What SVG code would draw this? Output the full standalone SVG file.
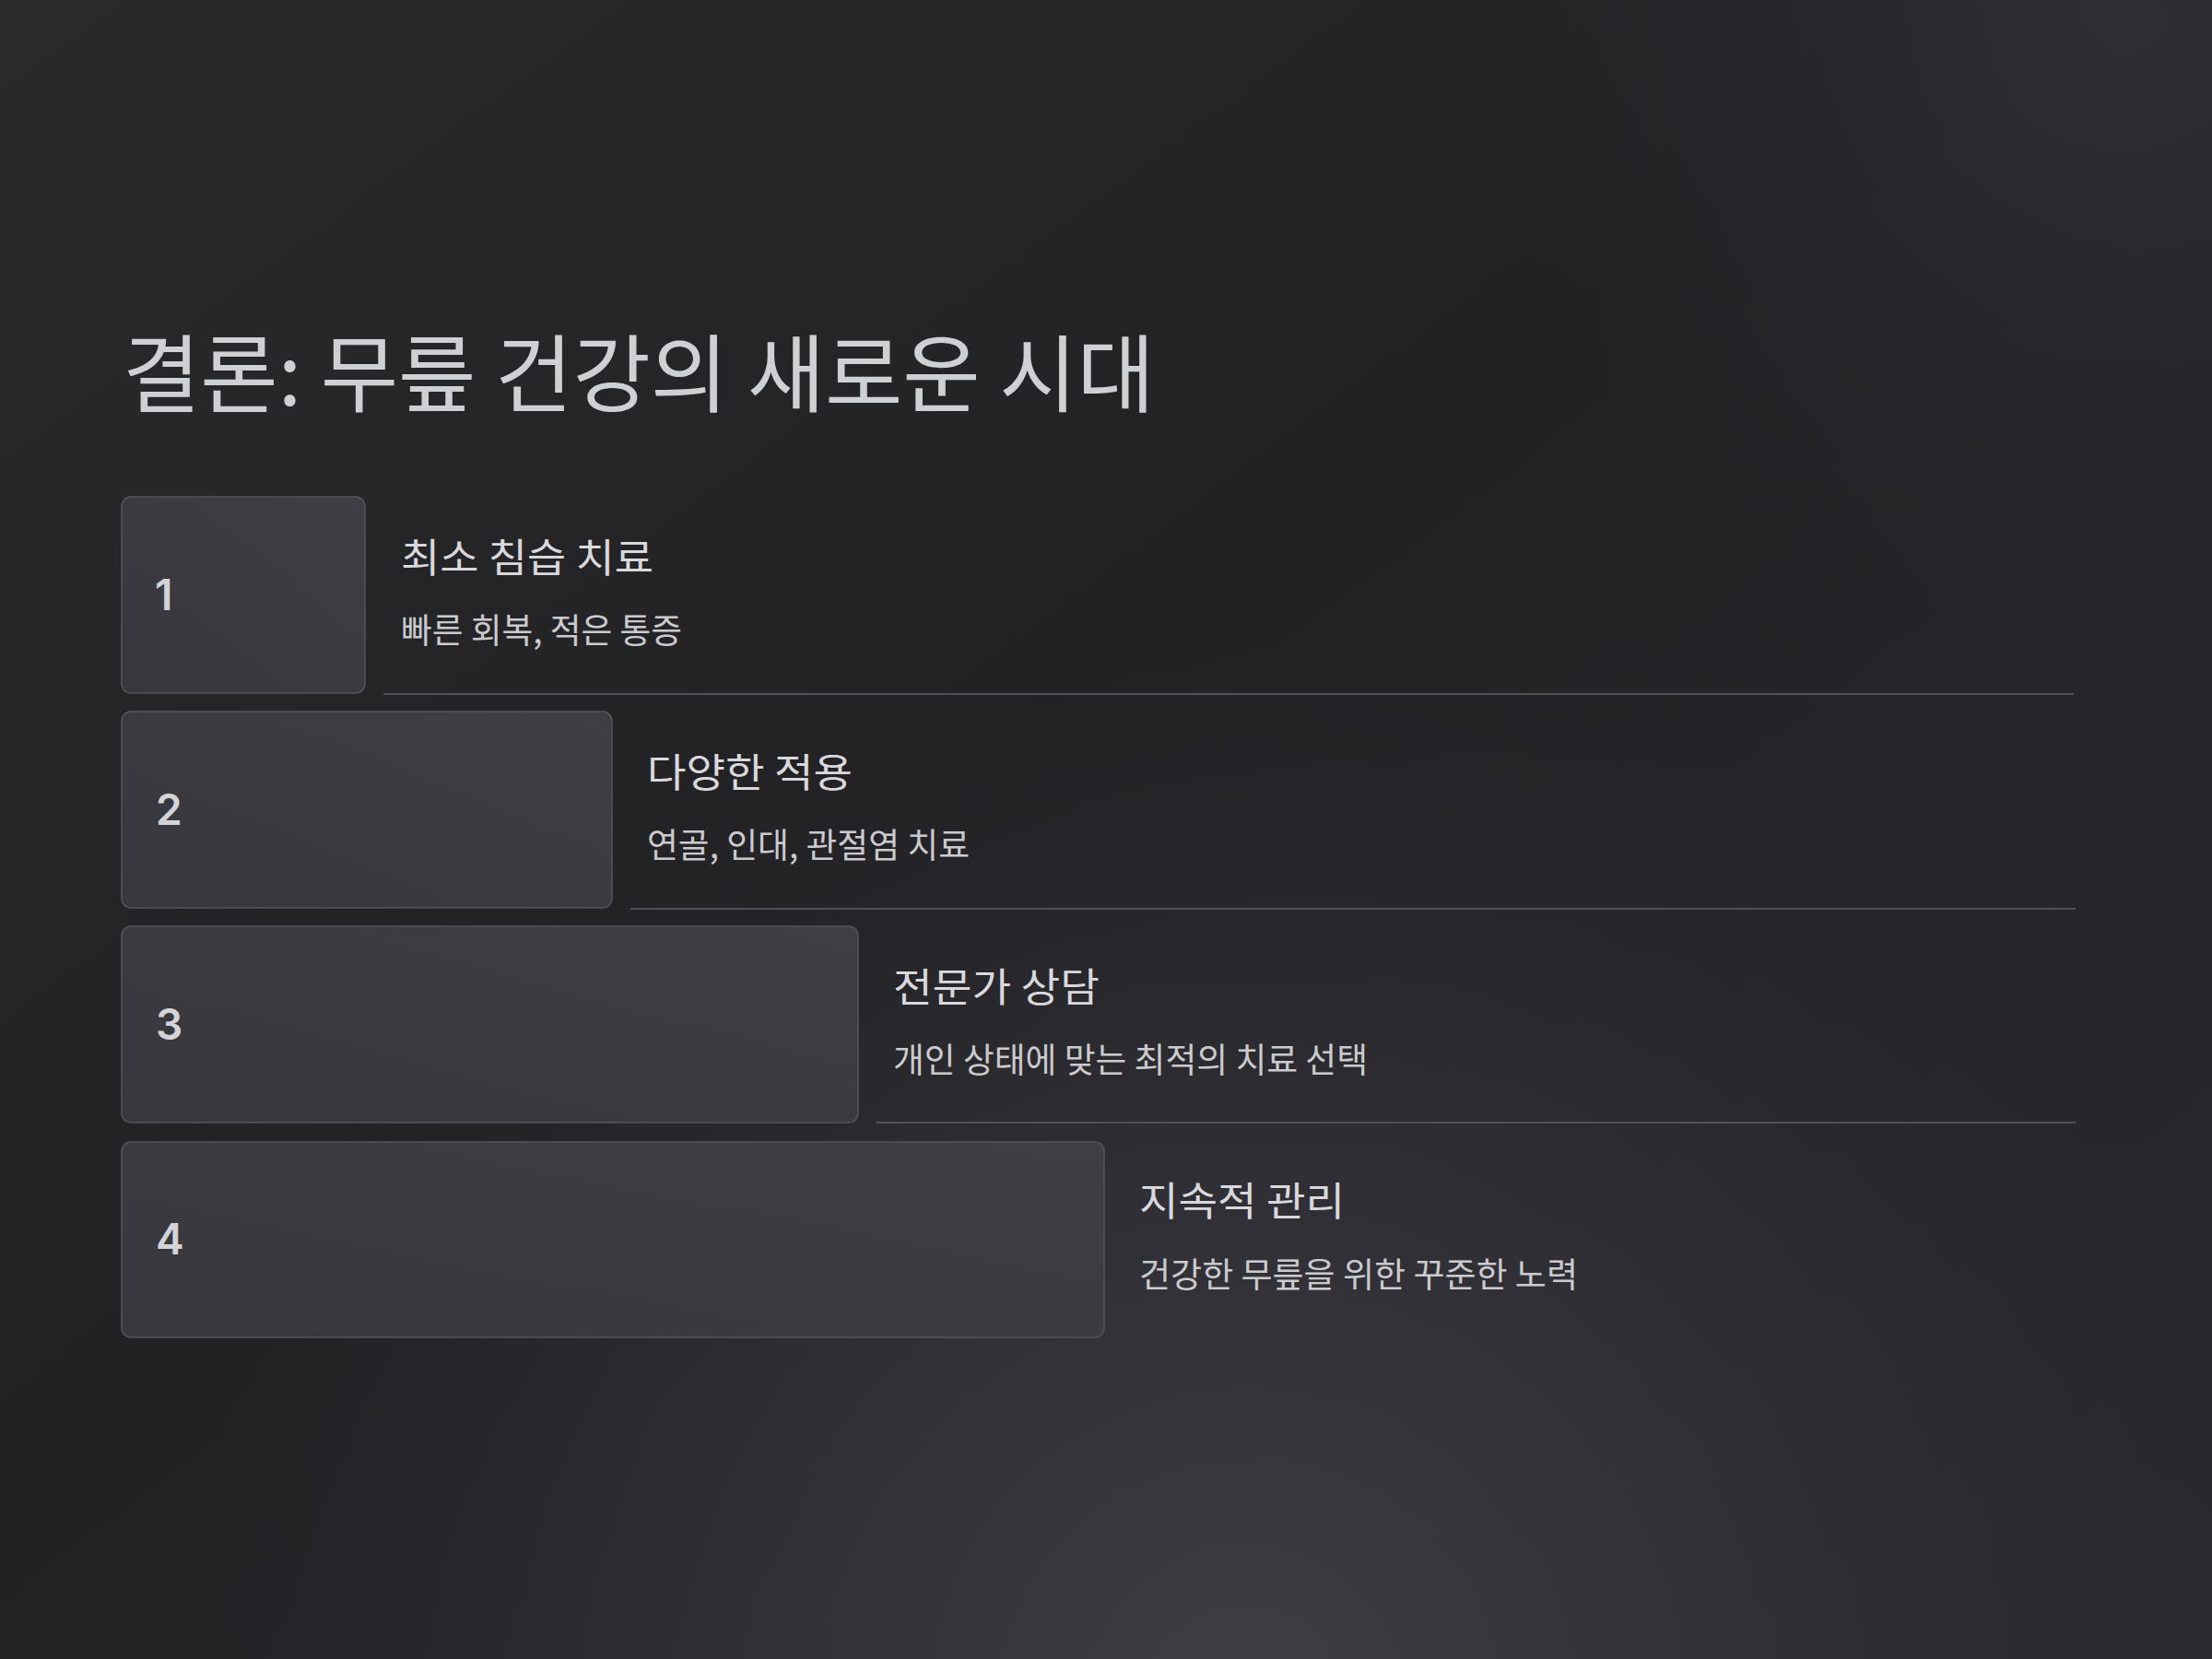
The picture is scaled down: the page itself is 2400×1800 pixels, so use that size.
<svg xmlns="http://www.w3.org/2000/svg" width="2400" height="1800" viewBox="0 0 2400 1800">
  <defs>
    <linearGradient id="bgLin" x1="0" y1="0" x2="1" y2="1">
      <stop offset="0" stop-color="#2a2a2d"/>
      <stop offset="0.45" stop-color="#222225"/>
      <stop offset="1" stop-color="#2a292e"/>
    </linearGradient>
    <radialGradient id="bgGlow" cx="1350" cy="1850" r="1150" gradientUnits="userSpaceOnUse">
      <stop offset="0" stop-color="#403f45" stop-opacity="1"/>
      <stop offset="0.5" stop-color="#34333a" stop-opacity="0.7"/>
      <stop offset="1" stop-color="#2a292e" stop-opacity="0"/>
    </radialGradient>
    <radialGradient id="bgGlow2" cx="2300" cy="0" r="700" gradientUnits="userSpaceOnUse">
      <stop offset="0" stop-color="#333238" stop-opacity="0.8"/>
      <stop offset="1" stop-color="#2a292e" stop-opacity="0"/>
    </radialGradient>
    <linearGradient id="boxFill" x1="0" y1="1" x2="1" y2="0">
      <stop offset="0" stop-color="#38373d"/>
      <stop offset="1" stop-color="#3f3e44"/>
    </linearGradient>
  </defs>
  <style>
    .box { fill: url(#boxFill); stroke: #55545a; stroke-width: 1.5; }
    .num { font-family: Inter, "Liberation Sans", sans-serif; font-weight: 600; font-size: 46px; fill: #d4d4d8; }
    .title { font-family: "Noto Sans CJK KR", sans-serif; font-size: 92px; fill: #cfd0d4; }
    .head { font-family: "Noto Sans CJK KR", sans-serif; font-size: 43px; fill: #d9d9dd; }
    .sub { font-family: "Noto Sans CJK KR", sans-serif; font-size: 37px; fill: #cbcbcf; }
    .rule { stroke: #505056; stroke-width: 2; fill: none; }
  </style>

  <rect x="0" y="0" width="2400" height="1800" fill="url(#bgLin)"/>
  <rect x="0" y="0" width="2400" height="1800" fill="url(#bgGlow)"/>
  <rect x="0" y="0" width="2400" height="1800" fill="url(#bgGlow2)"/>

  <text id="title" class="title" x="133" y="440" textLength="1120" lengthAdjust="spacingAndGlyphs">결론: 무릎 건강의 새로운 시대</text>

  <g id="connectors">
    <line class="rule" x1="416" y1="753" x2="2250" y2="753"/>
    <line class="rule" x1="684" y1="986" x2="2252" y2="986"/>
    <line class="rule" x1="951" y1="1218" x2="2252" y2="1218"/>
  </g>

  <g id="step1">
    <rect class="box" x="132" y="539" width="264" height="213" rx="10"/>
    <text class="num" x="168" y="662">1</text>
    <text class="head" x="435" y="621" textLength="274" lengthAdjust="spacingAndGlyphs">최소 침습 치료</text>
    <text class="sub" x="435" y="698" textLength="305" lengthAdjust="spacingAndGlyphs">빠른 회복, 적은 통증</text>
  </g>

  <g id="step2">
    <rect class="box" x="132" y="772" width="532" height="213" rx="10"/>
    <text class="num" x="169" y="895">2</text>
    <text class="head" x="702" y="854" textLength="223" lengthAdjust="spacingAndGlyphs">다양한 적용</text>
    <text class="sub" x="702" y="931" textLength="350" lengthAdjust="spacingAndGlyphs">연골, 인대, 관절염 치료</text>
  </g>

  <g id="step3">
    <rect class="box" x="132" y="1005" width="799" height="213" rx="10"/>
    <text class="num" x="169" y="1128">3</text>
    <text class="head" x="969" y="1087" textLength="224" lengthAdjust="spacingAndGlyphs">전문가 상담</text>
    <text class="sub" x="969" y="1164" textLength="515" lengthAdjust="spacingAndGlyphs">개인 상태에 맞는 최적의 치료 선택</text>
  </g>

  <g id="step4">
    <rect class="box" x="132" y="1239" width="1066" height="212" rx="10"/>
    <text class="num" x="169" y="1361">4</text>
    <text class="head" x="1236" y="1319" textLength="223" lengthAdjust="spacingAndGlyphs">지속적 관리</text>
    <text class="sub" x="1236" y="1397" textLength="476" lengthAdjust="spacingAndGlyphs">건강한 무릎을 위한 꾸준한 노력</text>
  </g>
</svg>
